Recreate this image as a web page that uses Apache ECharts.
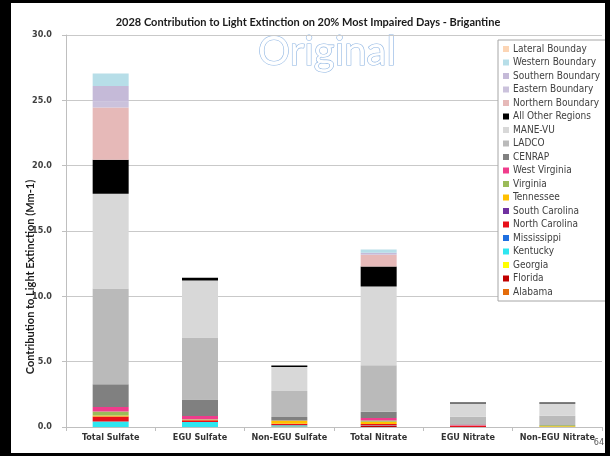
<!DOCTYPE html>
<html lang="en">
<head>
    <meta charset="UTF-8">
    <title>2028 Contribution to Light Extinction - Brigantine</title>
    <script src="https://cdn.jsdelivr.net/npm/echarts@6/dist/echarts.min.js"></script>
    <style>
        body { margin: 0; background: #000; }
        #main {
            position: absolute;
            left: 11px;
            top: 3px;
            width: 594px;
            height: 450px;
            background-color: white;
        }
    </style>
</head>
<body>
    <div id="main"></div>
    <script>
        var FONT = "'Liberation Sans Narrow', 'DejaVu Sans Condensed', 'Liberation Sans', sans-serif";
        var TITLE_FONT = "Lato, 'Liberation Sans', sans-serif";

        var categories = ['Total Sulfate', 'EGU Sulfate', 'Non-EGU Sulfate', 'Total Nitrate', 'EGU Nitrate', 'Non-EGU Nitrate'];
        var yTicks = [0, 5, 10, 15, 20, 25, 30];

        // stacked from bottom to top
        var alabama       = [0,    0,    0.03, 0,    0,    0];
        var florida       = [0,    0,    0,    0.08, 0,    0];
        var georgia       = [0,    0,    0,    0,    0,    0];
        var kentucky      = [0.42, 0.38, 0.10, 0.03, 0,    0];
        var mississippi   = [0,    0,    0,    0,    0,    0];
        var northCarolina = [0.38, 0.13, 0.12, 0.12, 0.10, 0];
        var southCarolina = [0,    0,    0,    0,    0,    0];
        var tennessee     = [0.08, 0.04, 0.20, 0.17, 0,    0.05];
        var virginia      = [0.30, 0.05, 0.06, 0.10, 0.02, 0.08];
        var westVirginia  = [0.36, 0.24, 0.03, 0.18, 0.06, 0];
        var cenrap        = [1.73, 1.27, 0.22, 0.49, 0.04, 0.03];
        var ladco         = [7.33, 4.74, 1.99, 3.56, 0.57, 0.70];
        var maneVu        = [7.25, 4.37, 1.85, 6.03, 1.01, 0.94];
        var allOther      = [2.60, 0.21, 0.10, 1.53, 0.08, 0.08];
        var northernBnd   = [4.00, 0,    0,    0.90, 0,    0];
        var easternBnd    = [0.45, 0,    0,    0.05, 0,    0];
        var southernBnd   = [1.20, 0,    0,    0.10, 0,    0];
        var westernBnd    = [0.95, 0,    0,    0.25, 0,    0];
        var lateralBnd    = [0,    0,    0,    0,    0,    0];

        var seriesDefs = [
            ['Alabama', alabama, '#e46c0a'],
            ['Florida', florida, '#c00000'],
            ['Georgia', georgia, '#ffff00'],
            ['Kentucky', kentucky, '#2ee6f0'],
            ['Mississippi', mississippi, '#1f6fe0'],
            ['North Carolina', northCarolina, '#e8101a'],
            ['South Carolina', southCarolina, '#7030a0'],
            ['Tennessee', tennessee, '#ffc000'],
            ['Virginia', virginia, '#9bbb59'],
            ['West Virginia', westVirginia, '#f03c8c'],
            ['CENRAP', cenrap, '#808080'],
            ['LADCO', ladco, '#bababa'],
            ['MANE-VU', maneVu, '#d8d8d8'],
            ['All Other Regions', allOther, '#000000'],
            ['Northern Boundary', northernBnd, '#e6b9b8'],
            ['Eastern Boundary', easternBnd, '#cbc2dc'],
            ['Southern Boundary', southernBnd, '#c5bad8'],
            ['Western Boundary', westernBnd, '#b7dee8'],
            ['Lateral Bounday', lateralBnd, '#fcd5b5']
        ];

        var series = seriesDefs.map(function (d) {
            return {
                name: d[0],
                type: 'bar',
                stack: 'total',
                data: d[1],
                barWidth: 36,
                itemStyle: { color: d[2] },
                emphasis: { disabled: true }
            };
        });

        var chart = echarts.init(document.getElementById('main'));
        var option = {
            animation: false,
            title: {
                text: '2028 Contribution to Light Extinction on 20% Most Impaired Days - Brigantine',
                left: 'center',
                top: 9,
                textStyle: { fontFamily: TITLE_FONT, fontSize: 11, fontWeight: 'bold', color: '#1a1a1a' }
            },
            legend: {
                orient: 'vertical',
                left: 487,
                top: 37,
                padding: [3, 6, 3, 5],
                backgroundColor: '#fff',
                borderColor: '#a6a6a6',
                borderWidth: 1,
                borderRadius: 0,
                icon: 'rect',
                itemWidth: 6,
                itemHeight: 6,
                itemGap: 1.5,
                selectedMode: false,
                data: seriesDefs.map(function (d) { return d[0]; }).reverse(),
                textStyle: { fontFamily: FONT, fontSize: 10, lineHeight: 12, color: '#404040', padding: [0, 0, 0, -1] }
            },
            grid: {
                left: 55,
                width: 536,
                top: 32,
                height: 392
            },
            xAxis: {
                type: 'category',
                data: categories,
                axisLine: { lineStyle: { color: '#bfbfbf' } },
                axisTick: { show: true, length: 4, lineStyle: { color: '#bfbfbf' } },
                axisLabel: { fontFamily: FONT, fontSize: 9, fontWeight: 'bold', color: '#333', margin: 6, interval: 0 }
            },
            yAxis: {
                type: 'value',
                min: 0,
                max: 30,
                interval: 5,
                axisLine: { show: true, lineStyle: { color: '#bfbfbf' } },
                axisTick: { show: true, length: 4, lineStyle: { color: '#bfbfbf' } },
                splitLine: { lineStyle: { color: '#c9c9c9' } },
                axisLabel: {
                    fontFamily: FONT, fontSize: 9, fontWeight: 'bold', color: '#404040', margin: 14,
                    formatter: function (v) { return yTicks.indexOf(v) >= 0 ? v.toFixed(1) : ''; }
                }
            },
            graphic: [
                {
                    type: 'text',
                    x: 19,
                    y: 274,
                    rotation: Math.PI / 2,
                    style: {
                        text: 'Contribution to Light Extinction (Mm-1)',
                        font: 'bold 11px ' + TITLE_FONT,
                        fill: '#1a1a1a',
                        align: 'center',
                        verticalAlign: 'middle'
                    }
                },
                {
                    type: 'text',
                    x: 316,
                    y: 49,
                    style: {
                        text: 'Original',
                        font: '40px Lato, "Liberation Sans", sans-serif',
                        fill: '#ffffff',
                        stroke: '#8db4e2',
                        lineWidth: 1.2,
                        align: 'center',
                        verticalAlign: 'middle'
                    }
                },
                {
                    type: 'text',
                    x: 588,
                    y: 440,
                    style: {
                        text: '64',
                        font: '9px ' + FONT,
                        fill: '#595959',
                        align: 'center',
                        verticalAlign: 'middle'
                    }
                }
            ],
            series: series
        };

        chart.setOption(option);
    </script>
</body>
</html>
